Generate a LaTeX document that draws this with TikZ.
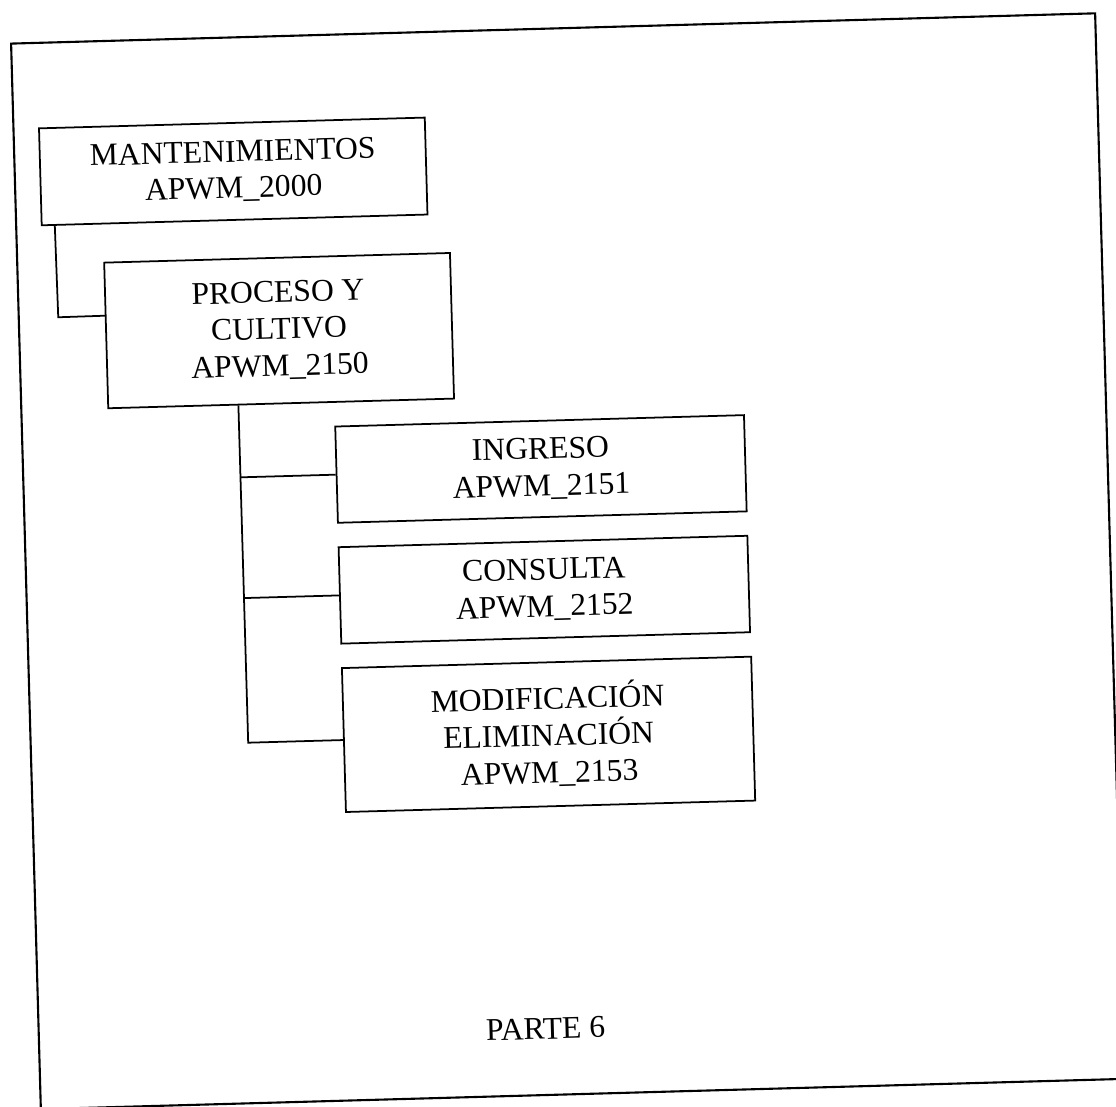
\documentclass[tikz,border=0pt]{standalone}
\usepackage{fontspec}
\setmainfont{Liberation Serif}
\usetikzlibrary{calc}
\begin{document}
\begin{tikzpicture}[x=0.02cm,y=-0.02cm,
  box/.style={draw,line width=1pt,inner sep=0pt,align=center,
    font=\fontsize{18}{21}\selectfont,transform shape},
  link/.style={line width=1pt},
  frame/.style={line width=1.2pt}]
\useasboundingbox (0,0) rectangle (1116,1106);
\begin{scope}[rotate around={1.6:(558,553)}]
  \draw[frame] (25.5,28.5) rectangle (1110,1094.5);
  \node[box,minimum width=7.72cm,minimum height=1.94cm,font=\fontsize{18}{20.5}\selectfont] (b1) at (244,162.5) {MANTENIMIENTOS\\APWM\_2000};
  \node[box,minimum width=6.92cm,minimum height=2.914cm] (b2) at (285.4,322.9) {PROCESO Y\\CULTIVO\\APWM\_2150};
  \node[box,minimum width=8.18cm,minimum height=1.926cm] (b3) at (543.3,468.5) {INGRESO\\APWM\_2151};
  \node[box,minimum width=8.18cm,minimum height=1.93cm] (b4) at (543.3,589.3) {CONSULTA\\APWM\_2152};
  \node[box,minimum width=8.19cm,minimum height=2.88cm] (b5) at (543.5,734) {MODIFICACIÓN\\ELIMINACIÓN\\APWM\_2153};
  \node[font=\fontsize{18}{21}\selectfont,anchor=base,inner sep=0pt,transform shape] (parte) at (532.4,1038.5) {PARTE 6};
  \coordinate (k1) at (65,303.4);
  \coordinate (k2) at (243,734);
  \coordinate (j3) at (243,468.5);
  \coordinate (j4) at (243,589.3);
  \draw[link] ($(b1.south west)!0.036!(b1.south east)$) -- (k1) -- ($(b2.north west)!0.366!(b2.south west)$);
  \draw[link] ($(b2.south west)!0.377!(b2.south east)$) -- (k2) -- (b5.west);
  \draw[link] (j3) -- (b3.west);
  \draw[link] (j4) -- (b4.west);
\end{scope}
\end{tikzpicture}
\end{document}
